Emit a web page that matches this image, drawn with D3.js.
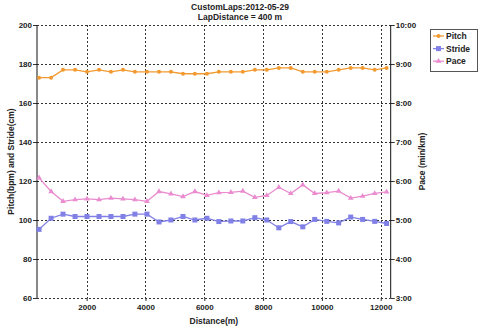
<!DOCTYPE html>
<html><head><meta charset="utf-8">
<script src="https://cdn.jsdelivr.net/npm/d3@7"></script>
<style>
html,body{margin:0;padding:0;background:#fff;}
svg{display:block;font-family:"Liberation Sans",Arial,sans-serif;}
</style></head>
<body>
<svg id="c" width="480" height="329"></svg>
<script>
const titleLines = ["CustomLaps:2012-05-29", "LapDistance = 400 m"];
const distance = [380, 790, 1195, 1605, 2010, 2420, 2825, 3235, 3640, 4050, 4460, 4865, 5275, 5680, 6090, 6495, 6905, 7310, 7720, 8125, 8535, 8940, 9350, 9755, 10165, 10570, 10980, 11385, 11795, 12200];
const pitch = [173, 173, 177, 177, 176, 177, 176, 177, 176, 176, 176, 176, 175, 175, 175, 176, 176, 176, 177, 177, 178, 178, 176, 176, 176, 177, 178, 178, 177, 178];
const stride = [95.2, 100.9, 103, 101.8, 101.8, 101.8, 101.8, 101.8, 103, 103, 99, 100, 101.8, 100, 100.9, 99.2, 99.5, 99.5, 101.2, 100, 96, 99.2, 96.5, 100.3, 99.3, 98.5, 101.5, 100.3, 99.3, 98.2];
const pace = [6.08, 5.73, 5.48, 5.52, 5.54, 5.52, 5.56, 5.54, 5.52, 5.48, 5.73, 5.67, 5.60, 5.73, 5.63, 5.70, 5.71, 5.74, 5.58, 5.63, 5.84, 5.68, 5.90, 5.68, 5.70, 5.74, 5.56, 5.61, 5.68, 5.72];
const xTicks = [2000, 4000, 6000, 8000, 10000, 12000];
const leftTicks = [60, 80, 100, 120, 140, 160, 180, 200];
const rightTicks = [3, 4, 5, 6, 7, 8, 9, 10];
const seriesNames = ["Pitch", "Stride", "Pace"];
const colors = {Pitch: "#f29a30", Stride: "#8080e6", Pace: "#ea8ccf"};

const svg = d3.select("#c");
const L = 37, R = 390.7, T = 25, B = 298;
const x = d3.scaleLinear().domain([310, 12340]).range([L, R]);
const yL = d3.scaleLinear().domain([60, 200]).range([B, T]);
const yR = d3.scaleLinear().domain([3, 10]).range([B, T]);

// grid
const grid = svg.append("g").attr("stroke", "#333").attr("stroke-width", 1).attr("stroke-dasharray", "2,2");
leftTicks.forEach(v => grid.append("line").attr("x1", L).attr("x2", R).attr("y1", Math.round(yL(v)) + 0.5).attr("y2", Math.round(yL(v)) + 0.5));
xTicks.forEach(v => grid.append("line").attr("y1", T).attr("y2", B).attr("x1", Math.round(x(v)) + 0.5).attr("x2", Math.round(x(v)) + 0.5));

// axes
const fmtPace = v => { const m = Math.floor(v), s = Math.round((v - m) * 60); return m + ":" + String(s).padStart(2, "0"); };
const gl = svg.append("g").attr("transform", `translate(${L},0)`).call(d3.axisLeft(yL).tickValues(leftTicks).tickSize(4).tickPadding(1));
const gr = svg.append("g").attr("transform", `translate(${R},0)`).call(d3.axisRight(yR).tickValues(rightTicks).tickSize(4).tickPadding(1).tickFormat(fmtPace));
const gb = svg.append("g").attr("transform", `translate(0,${B})`).call(d3.axisBottom(x).tickValues(xTicks).tickSize(3).tickPadding(3).tickFormat(d3.format("d")));
[gl, gr, gb].forEach(g => {
  g.select(".domain").remove();
  g.selectAll("text").attr("font-size", 8).attr("font-weight", "bold").attr("fill", "#222").attr("font-family", "Liberation Sans, Arial, sans-serif");
  g.selectAll("line").attr("stroke", "#333");
});
svg.append("line").attr("x1", L).attr("x2", L).attr("y1", T).attr("y2", B).attr("stroke", "#111");
svg.append("line").attr("x1", R).attr("x2", R).attr("y1", T).attr("y2", B).attr("stroke", "#111");

// series
const pts = (vals, sc) => vals.map((v, i) => [x(distance[i]), sc(v)]);
const line = d3.line();
const series = [
  {name: "Pitch", p: pts(pitch, yL)},
  {name: "Stride", p: pts(stride, yL)},
  {name: "Pace", p: pts(pace, yR)}
];
function marker(g, name, cx, cy) {
  const c = colors[name];
  if (name === "Pitch") g.append("circle").attr("cx", cx).attr("cy", cy).attr("r", 2).attr("fill", c);
  else if (name === "Stride") g.append("rect").attr("x", cx - 2.5).attr("y", cy - 2.5).attr("width", 5).attr("height", 5).attr("fill", c);
  else g.append("path").attr("d", d3.symbol(d3.symbolTriangle, 14)()).attr("transform", `translate(${cx},${cy})`).attr("fill", c);
}
series.forEach(s => {
  svg.append("path").attr("d", line(s.p)).attr("fill", "none").attr("stroke", colors[s.name]).attr("stroke-width", 1.3);
  const g = svg.append("g");
  s.p.forEach(q => marker(g, s.name, q[0], q[1]));
});

// titles
svg.append("g").selectAll("text").data(titleLines).join("text")
  .attr("x", 240).attr("y", (d, i) => 10 + i * 10).attr("text-anchor", "middle")
  .attr("font-size", 8.5).attr("font-weight", "bold").attr("fill", "#222").text(d => d);
svg.append("text").attr("x", (L + R) / 2).attr("y", 324).attr("text-anchor", "middle")
  .attr("font-size", 8.5).attr("font-weight", "bold").attr("fill", "#222").text("Distance(m)");
svg.append("text").attr("transform", `translate(11,${(T + B) / 2}) rotate(-90)`).attr("text-anchor", "middle").attr("dy", "0.35em")
  .attr("font-size", 8.5).attr("font-weight", "bold").attr("fill", "#222").text("Pitch(bpm) and Stride(cm)");
svg.append("text").attr("transform", `translate(422,${(T + B) / 2}) rotate(-90)`).attr("text-anchor", "middle").attr("dy", "0.35em")
  .attr("font-size", 8.5).attr("font-weight", "bold").attr("fill", "#222").text("Pace (min/km)");

// legend
const lg = svg.append("g");
lg.append("rect").attr("x", 430.5).attr("y", 29.5).attr("width", 47).attr("height", 42).attr("fill", "#fff").attr("stroke", "#555");
seriesNames.forEach((n, i) => {
  const cy = 36 + i * 12.6;
  lg.append("line").attr("x1", 433).attr("x2", 444).attr("y1", cy).attr("y2", cy).attr("stroke", colors[n]).attr("stroke-width", 1.3);
  marker(lg, n, 438.5, cy);
  lg.append("text").attr("x", 446).attr("y", cy + 3).attr("font-size", 8.5).attr("font-weight", "bold").attr("fill", "#222").text(n);
});
</script>
</body></html>
